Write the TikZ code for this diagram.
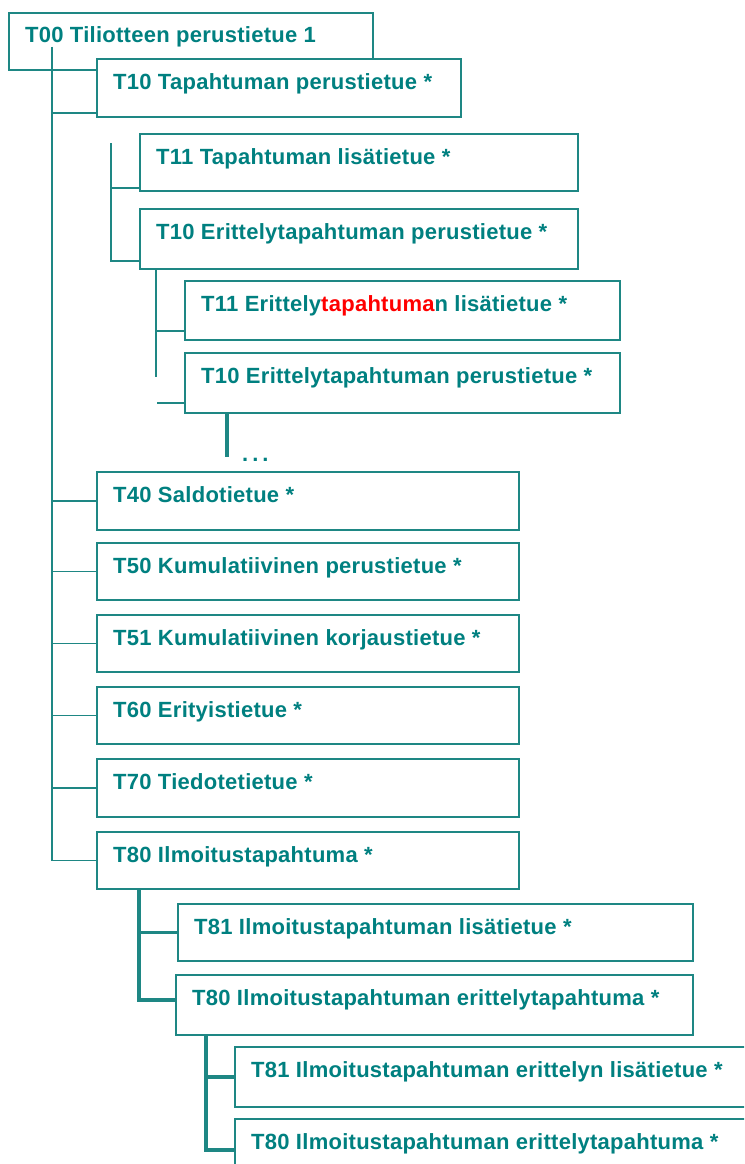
\documentclass[tikz,border=0pt]{standalone}
\usepackage{fontspec}
\setmainfont{Liberation Sans}[LetterSpace=1.2]
\definecolor{tealtext}{RGB}{0,128,128}
\definecolor{tealline}{RGB}{30,135,132}
\definecolor{redtext}{RGB}{255,0,0}
\newcommand\bx[7]{%
  \node[#1,minimum width=#5pt,minimum height=#6pt] (#2) at (#3,#4) {};
  \node[lbl] (#2-t) at ([xshift=16pt,yshift=-30pt]#2.north west) {#7};}
\begin{document}
\begin{tikzpicture}[x=1pt,y=-1pt,
  box/.style={draw=tealline,fill=white,line width=1.9pt,rectangle,inner sep=0pt,outer sep=0pt,anchor=north west},
  thickbox/.style={box,line width=2.8pt},
  lbl/.style={anchor=base west,inner sep=0pt,text=tealtext,font=\bfseries\fontsize{22}{26}\selectfont},
  conn/.style={draw=tealline,line width=1.9pt},
  thickconn/.style={draw=tealline,line width=3.2pt}]
\useasboundingbox[fill=white] (0,0) rectangle (744,1164);
\clip (0,0) rectangle (744,1164);
% boxes
\bx{box}{t00}{9}{13}{364}{57}{T00 Tiliotteen perustietue 1}
\bx{box}{t10}{97}{59}{364}{58}{T10 Tapahtuman perustietue *}
\bx{box}{t11a}{140}{134}{438}{57}{T11 Tapahtuman lis\"atietue *}
\bx{box}{t10e}{140}{209}{438}{60}{T10 Erittelytapahtuman perustietue *}
\bx{box}{t11e}{185}{281}{435}{59}{T11 Erittely\textcolor{redtext}{tapahtuma}n lis\"atietue *}
\bx{box}{t10e2}{185}{353}{435}{60}{T10 Erittelytapahtuman perustietue *}
\bx{box}{t40}{97}{472}{422}{58}{T40 Saldotietue *}
\bx{box}{t50}{97}{543}{422}{57}{T50 Kumulatiivinen perustietue *}
\bx{box}{t51}{97}{615}{422}{57}{T51 Kumulatiivinen korjaustietue *}
\bx{box}{t60}{97}{687}{422}{57}{T60 Erityistietue *}
\bx{box}{t70}{97}{759}{422}{58}{T70 Tiedotetietue *}
\bx{box}{t80}{97}{832}{422}{57}{T80 Ilmoitustapahtuma *}
\bx{box}{t81}{178}{904}{515}{57}{T81 Ilmoitustapahtuman lis\"atietue *}
\bx{thickbox}{t80e}{176}{975}{517}{60}{T80 Ilmoitustapahtuman erittelytapahtuma *}
\bx{thickbox}{t81e}{235}{1047}{520}{60}{T81 Ilmoitustapahtuman erittelyn lis\"atietue *}
\bx{thickbox}{t80e2}{235}{1119}{520}{60}{T80 Ilmoitustapahtuman erittelytapahtuma *}
% main trunk
\coordinate (r0) at (52,47);
\draw[conn] (r0) |- ([yshift=4pt]t10.south west);
\draw[conn] (r0) |- (t80.west);
\foreach \n in {t40,t50,t51,t60,t70}{\draw[conn] (r0 |- \n.west) -- (\n.west);}
% T10 subtree
\coordinate (r1) at (111,143);
\draw[conn] (r1) |- ([yshift=3pt]t11a.south west);
\draw[conn] (r1) |- ([yshift=8pt]t10e.south west);
% T10 Erittely subtree
\coordinate (r2) at (156,377);
\coordinate (s11e) at ([yshift=9pt]t11e.south west);
\draw[conn] (r2 |- t10e.south) -- (r2);
\draw[conn] (r2 |- s11e) -- (s11e);
\draw[conn] ([xshift=-28pt,yshift=10pt]t10e2.south west) -- ([yshift=10pt]t10e2.south west);
\coordinate (dend) at (227,457);
\draw[thickconn] (dend |- t10e2.south) -- (dend);
\node[lbl] (dots) at (242,461) {.\kern4pt.\kern4pt.};
% T80 subtree
\coordinate (r4) at ([xshift=42pt]t80.south west);
\draw[thickconn] (r4) |- ([yshift=5pt]t80e.west);
\draw[thickconn] (r4 |- t81.west) -- (t81.west);
% T80 erittely subtree
\coordinate (r5) at ([xshift=30pt]t80e.south west);
\draw[thickconn] (r5) |- ([yshift=-31pt]t80e2.north west);
\draw[thickconn] (r5 |- t81e.west) -- (t81e.west);
\end{tikzpicture}
\end{document}
